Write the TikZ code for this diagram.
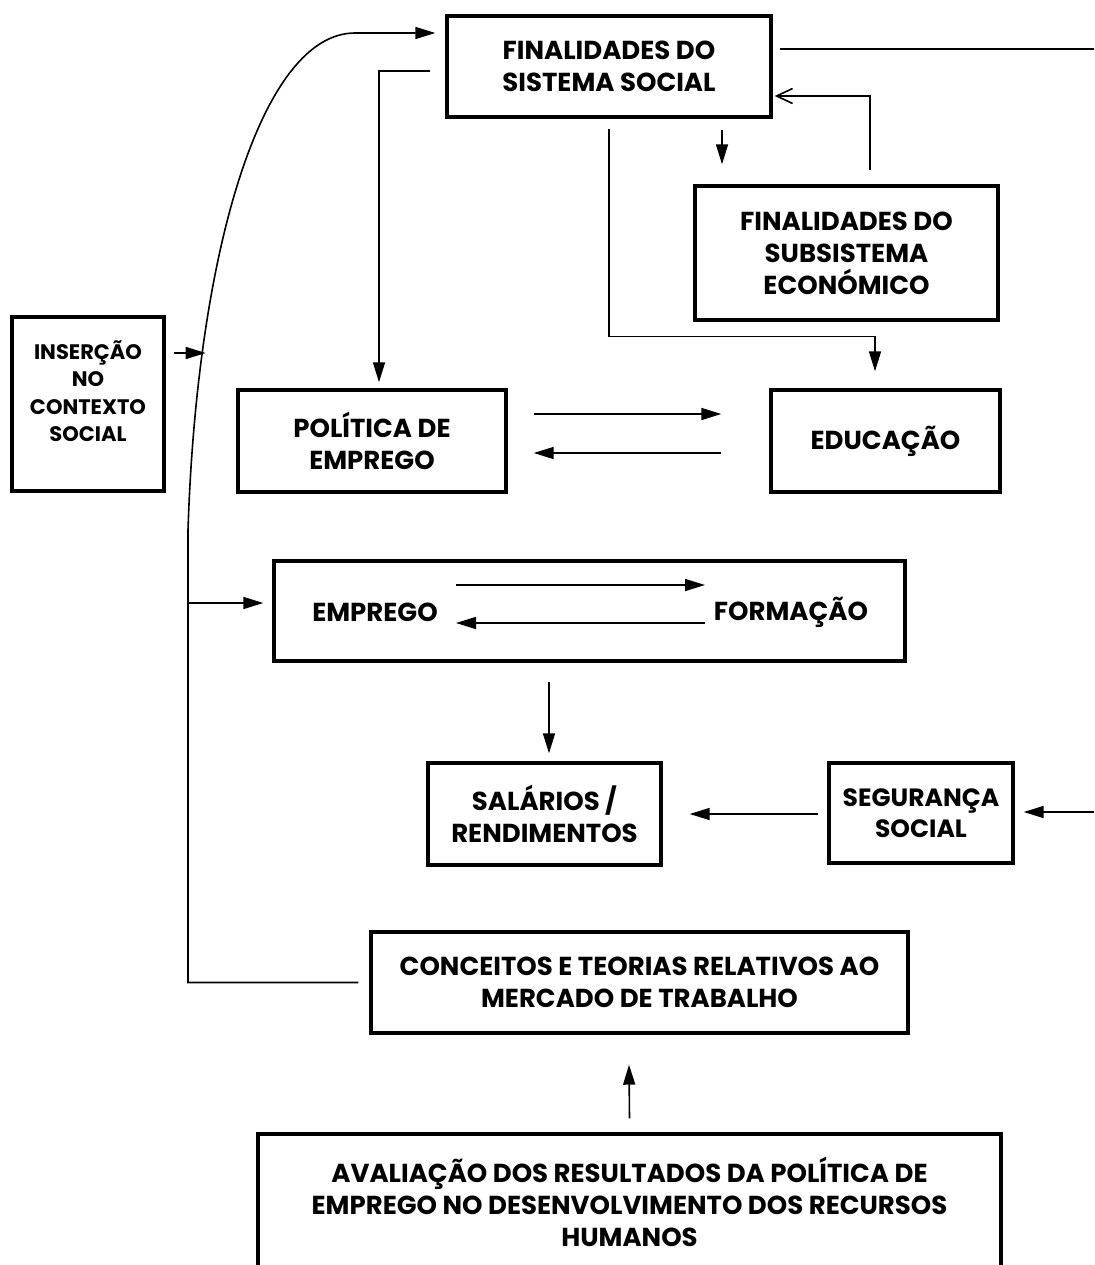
\documentclass[tikz,border=0pt]{standalone}
\usepackage{fontspec}
\setmainfont{Poppins}
\usepackage{tikz}
\usetikzlibrary{calc,arrows.meta}
\newcommand{\boxfont}{\fontsize{26}{32}\selectfont\bfseries}
\newcommand{\smallboxfont}{\fontsize{21}{27.5}\selectfont\bfseries}
\tikzset{
  box/.style={draw=black, line width=3.4pt, align=center, inner sep=0pt, font=\boxfont},
  txt/.style={align=center, inner sep=0pt, font=\boxfont},
  conn/.style={draw=black, line width=1.6pt},
  arr/.style={conn, -{Triangle[length=20pt,width=12pt]}},
  barb/.style={conn, -{Straight Barb[length=16pt,width=15pt]}}
}

\begin{document}
\begin{tikzpicture}[x=1pt,y=-1pt]
  \useasboundingbox (0,0) rectangle (1094,1265);

  \node[box, minimum width=324, minimum height=101] (fss) at (609,66.5) {FINALIDADES DO\\SISTEMA SOCIAL};
  \node[box, minimum width=303, minimum height=134] (fse) at (846.5,253) {FINALIDADES DO\\SUBSISTEMA\\ECONÓMICO};
  \node[box, minimum width=152, minimum height=174,
    label={[txt, font=\smallboxfont, yshift=13pt]center:INSERÇÃO\\NO\\CONTEXTO\\SOCIAL}] (ins) at (88,404) {};
  \node[box, minimum width=268, minimum height=102] (pol) at (372,441) {POLÍTICA DE\\EMPREGO};
  \node[box, minimum width=229, minimum height=102] (edu) at (885.5,441) {EDUCAÇÃO};
  \node[box, minimum width=631, minimum height=100] (empform) at (589.5,611) {};
  \node[txt] (emp) at (375,612) {EMPREGO};
  \node[txt] (form) at (791,612) {FORMAÇÃO};
  \node[box, minimum width=233, minimum height=102] (sal) at (544.5,814) {SALÁRIOS /\\RENDIMENTOS};
  \node[box, minimum width=184, minimum height=100, font=\fontsize{25}{31}\selectfont\bfseries] (seg) at (921,813) {SEGURANÇA\\SOCIAL};
  \node[box, minimum width=537, minimum height=101] (con) at (639.5,982.5) {CONCEITOS E TEORIAS RELATIVOS AO\\MERCADO DE TRABALHO};
  \node[box, minimum width=743, minimum height=136] (ava) at (629.5,1202) {AVALIAÇÃO DOS RESULTADOS DA POLÍTICA DE\\EMPREGO NO DESENVOLVIMENTO DOS RECURSOS\\HUMANOS};

  \coordinate (lp) at (188,530);
  \coordinate (tp) at (355,33);
  \coordinate (rim1) at (1094,49);
  \coordinate (rim2) at (1094,812);

  \draw[arr] ([xshift=-11pt]con.west) -| (lp) .. controls (197,250) and (262,33) .. (tp)
    -- ([xshift=-10pt,yshift=33.5pt]fss.west);
  \draw[arr] ([xshift=8pt,yshift=51pt]ins.east) -- ++(32,0);
  \draw[arr] (lp |- 0,603) -- ([xshift=-9pt,yshift=8pt]empform.west);

  \draw[conn] ([xshift=7pt,yshift=17.5pt]fss.east) -- (rim1);
  \draw[arr] ([xshift=-15pt,yshift=-4.5pt]fss.west) -| ([xshift=7pt,yshift=6pt]pol.north);
  \draw[arr] ([yshift=-10pt]fss.south) |- ([xshift=-10.5pt,yshift=52pt]edu.north)
    -- ([xshift=-10.5pt,yshift=17pt]edu.north);
  \draw[arr] ([xshift=113pt,yshift=-11pt]fss.south) -- ([xshift=-124.5pt,yshift=20pt]fse.north);
  \draw[barb] ([xshift=23.5pt,yshift=14pt]fse.north) |- ([xshift=2pt,yshift=-29.5pt]fss.east);

  \draw[arr] ([xshift=26pt,yshift=27pt]pol.east) -- ([xshift=-48pt,yshift=27pt]edu.west);
  \draw[arr] ([xshift=-48pt,yshift=-12pt]edu.west) -- ([xshift=26pt,yshift=-12pt]pol.east);

  \draw[arr] ([xshift=-133.5pt,yshift=26pt]empform.center) -- ([xshift=115.5pt,yshift=26pt]empform.center);
  \draw[arr] ([xshift=115.5pt,yshift=-12pt]empform.center) -- ([xshift=-133.5pt,yshift=-12pt]empform.center);

  \draw[arr] ([xshift=-40.5pt,yshift=-19pt]empform.south) -- ([xshift=4.5pt,yshift=8pt]sal.north);
  \draw[arr] ([xshift=-9pt,yshift=-1pt]seg.west) -- ([xshift=27pt]sal.east);
  \draw[arr] (rim2) -- ([xshift=9pt,yshift=1pt]seg.east);
  \draw[arr] ([yshift=14pt]ava.north) -- ([xshift=-10.5pt,yshift=-30pt]con.south);
\end{tikzpicture}
\end{document}
